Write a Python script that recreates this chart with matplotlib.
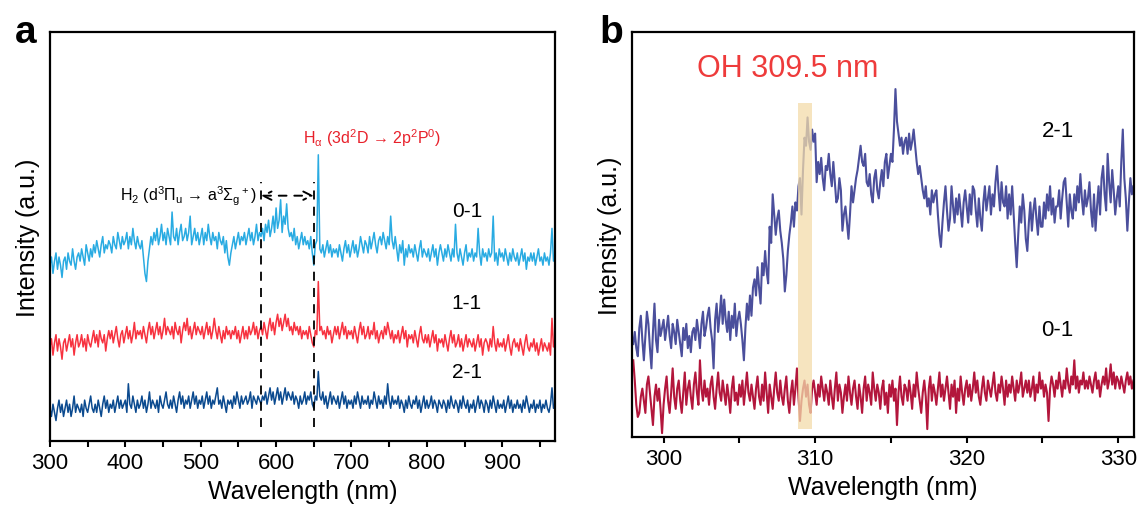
import numpy as np
import matplotlib
matplotlib.use("Agg")
import matplotlib.pyplot as plt
from matplotlib.ticker import MultipleLocator

plt.rcParams["font.family"] = ["Liberation Sans", "DejaVu Sans"]
plt.rcParams["mathtext.fontset"] = "custom"
plt.rcParams["mathtext.rm"] = "Liberation Sans"
plt.rcParams["mathtext.it"] = "Liberation Sans"

# ---------------------------------------------------------------- data (a)
# wavelength grid of the survey spectra, 2 nm step, 300-970 nm
wl_a = np.arange(300, 971, 2)

# OES spectra, intensity in % of the axis height
spec_01 = [
    43, 45, 41, 44, 46, 42, 45, 43, 40, 44,
    45, 42, 46, 44, 43, 47, 44, 42, 45, 46,
    44, 47, 45, 43, 48, 46, 44, 47, 45, 48,
    46, 49, 47, 45, 48, 50, 46, 48, 47, 49,
    48, 46, 50, 48, 47, 51, 49, 47, 50, 48,
    49, 51, 47, 50, 48, 52, 49, 47, 50, 48,
    47, 49, 45, 41, 39, 44, 47, 50, 48, 51,
    49, 52, 48, 50, 53, 49, 51, 48, 52, 50,
    48, 56, 50, 49, 52, 48, 51, 53, 49, 50,
    52, 49, 51, 55, 48, 50, 52, 49, 51, 48,
    50, 52, 48, 51, 49, 53, 50, 48, 51, 49,
    50, 47, 51, 49, 48, 50, 46, 49, 45, 43,
    46, 48, 50, 47, 49, 51, 48, 50, 49, 51,
    48, 50, 52, 49, 51, 48, 50, 53, 49, 51,
    50, 52, 49, 53, 51, 54, 50, 52, 55, 51,
    57, 52, 54, 59, 51, 55, 53, 58, 52, 50,
    51, 49, 52, 48, 50, 47, 49, 51, 48, 50,
    48, 49, 47, 50, 46, 43, 48, 49, 70, 47,
    46, 48, 45, 47, 49, 46, 48, 45, 47, 46,
    47, 45, 48, 46, 44, 47, 49, 46, 48, 45,
    47, 49, 46, 48, 45, 47, 50, 48, 46, 49,
    48, 46, 50, 47, 49, 51, 48, 46, 49, 50,
    48, 51, 49, 47, 50, 48, 55, 49, 47, 50,
    47, 44, 48, 46, 49, 43, 47, 45, 48, 46,
    47, 45, 48, 46, 44, 47, 49, 45, 47, 46,
    45, 47, 44, 46, 48, 45, 47, 43, 46, 48,
    46, 44, 47, 45, 48, 46, 44, 47, 45, 53,
    46, 44, 47, 45, 43, 46, 48, 44, 46, 45,
    47, 44, 46, 45, 52, 46, 43, 47, 45, 46,
    44, 47, 45, 46, 55, 44, 46, 43, 47, 45,
    46, 44, 47, 45, 43, 46, 44, 47, 45, 44,
    46, 43, 45, 47, 44, 46, 42, 45, 44, 46,
    44, 46, 43, 45, 47, 44, 45, 43, 46, 44,
    45, 43, 46, 52, 44, 45,
]
spec_11 = [
    23, 25, 21, 24, 26, 22, 25, 23, 20, 24,
    25, 22, 24, 26, 23, 25, 21, 24, 26, 23,
    24, 26, 23, 25, 22, 26, 24, 23, 25, 27,
    24, 26, 23, 27, 25, 24, 26, 22, 25, 27,
    25, 27, 24, 26, 28, 25, 23, 26, 27, 24,
    26, 28, 25, 27, 24, 26, 29, 25, 27, 26,
    27, 25, 28, 26, 24, 27, 29, 26, 28, 25,
    27, 29, 26, 28, 25, 27, 30, 26, 28, 27,
    26, 28, 25, 29, 27, 26, 28, 24, 27, 29,
    27, 30, 26, 28, 25, 27, 29, 26, 28, 27,
    26, 28, 25, 27, 29, 26, 28, 25, 27, 30,
    27, 25, 28, 26, 24, 27, 25, 28, 26, 27,
    25, 27, 26, 28, 25, 27, 24, 26, 28, 25,
    27, 25, 28, 26, 27, 29, 26, 28, 25, 27,
    28, 26, 29, 27, 25, 28, 30, 27, 29, 26,
    29, 31, 28, 30, 27, 29, 31, 28, 30, 27,
    28, 26, 29, 27, 28, 26, 28, 25, 27, 26,
    27, 25, 28, 26, 24, 23, 27, 26, 39, 27,
    28, 26, 27, 25, 28, 26, 27, 24, 26, 28,
    26, 28, 25, 27, 29, 26, 28, 25, 27, 26,
    27, 25, 28, 26, 24, 27, 29, 26, 28, 25,
    26, 28, 25, 27, 26, 29, 25, 27, 24, 26,
    27, 25, 28, 26, 29, 27, 25, 27, 24, 26,
    25, 27, 24, 26, 28, 25, 27, 23, 26, 25,
    26, 24, 27, 25, 23, 26, 28, 25, 24, 26,
    24, 26, 23, 25, 27, 24, 26, 22, 25, 24,
    25, 23, 26, 24, 22, 25, 27, 24, 26, 23,
    24, 26, 23, 25, 22, 24, 26, 23, 25, 24,
    23, 25, 22, 24, 26, 23, 25, 21, 24, 25,
    24, 22, 25, 23, 28, 24, 22, 25, 23, 24,
    23, 25, 22, 24, 26, 23, 21, 24, 25, 23,
    24, 22, 25, 23, 21, 24, 26, 23, 22, 24,
    23, 25, 22, 24, 21, 23, 25, 22, 24, 23,
    22, 24, 21, 30, 23, 24,
]
spec_21 = [
    8, 6, 9, 7, 5, 8, 10, 7, 9, 6,
    8, 10, 7, 9, 6, 8, 11, 7, 9, 8,
    7, 9, 6, 10, 8, 7, 9, 11, 8, 7,
    9, 7, 10, 8, 6, 9, 11, 8, 10, 7,
    9, 8, 10, 7, 9, 11, 8, 10, 8, 9,
    10, 7, 14, 9, 8, 11, 9, 7, 10, 8,
    9, 11, 8, 10, 7, 9, 12, 8, 10, 9,
    8, 10, 7, 11, 9, 8, 10, 12, 9, 8,
    10, 8, 11, 9, 7, 10, 12, 9, 11, 8,
    10, 9, 11, 8, 10, 12, 9, 11, 8, 10,
    9, 11, 8, 10, 12, 9, 11, 8, 10, 9,
    11, 13, 9, 10, 8, 11, 9, 7, 10, 9,
    10, 8, 11, 9, 12, 10, 8, 11, 9, 10,
    11, 9, 10, 12, 8, 11, 10, 9, 11, 10,
    9, 11, 10, 12, 9, 11, 13, 10, 12, 9,
    11, 13, 10, 12, 9, 11, 13, 10, 12, 11,
    10, 12, 9, 11, 10, 8, 11, 9, 10, 12,
    9, 11, 10, 12, 9, 8, 11, 10, 17, 11,
    10, 12, 9, 11, 8, 10, 12, 9, 11, 10,
    9, 11, 8, 10, 12, 9, 11, 8, 10, 9,
    10, 8, 11, 9, 12, 10, 8, 11, 9, 10,
    9, 11, 8, 10, 9, 12, 10, 8, 11, 9,
    10, 8, 11, 9, 14, 10, 8, 11, 9, 10,
    9, 11, 8, 10, 9, 7, 10, 8, 11, 9,
    8, 10, 9, 11, 8, 10, 7, 9, 11, 8,
    10, 8, 9, 11, 8, 10, 9, 7, 10, 9,
    8, 10, 9, 7, 10, 8, 11, 9, 8, 10,
    9, 7, 10, 8, 11, 9, 8, 10, 7, 9,
    8, 10, 7, 9, 11, 8, 10, 9, 7, 10,
    9, 7, 10, 8, 11, 9, 7, 10, 8, 9,
    8, 10, 7, 9, 11, 8, 10, 7, 9, 8,
    10, 8, 9, 7, 10, 8, 11, 9, 7, 9,
    8, 10, 7, 9, 8, 10, 7, 9, 8, 10,
    8, 7, 9, 13, 8, 9,
]

# ---------------------------------------------------------------- data (b)
# zoom on the OH band, 0.1 nm step, 298.0-331.0 nm
wl_b = np.round(np.arange(298.0, 331.05, 0.1), 1)

oh_21 = [
    23, 26, 22, 20, 27, 30, 24, 19, 25, 31,
    28, 22, 17, 26, 33, 24, 21, 29, 25, 27,
    29, 24, 27, 30, 25, 22, 28, 26, 23, 29,
    26, 23, 20, 27, 24, 28, 22, 25, 21, 26,
    27, 24, 29, 26, 22, 28, 31, 25, 27, 30,
    32, 27, 24, 17, 29, 33, 26, 30, 35, 28,
    34, 29, 26, 31, 24, 30, 27, 33, 25, 29,
    31, 28, 24, 19, 27, 33, 29, 35, 30, 37,
    39, 35, 42, 37, 33, 43, 40, 46, 41, 38,
    52, 48, 60, 55, 50, 54, 56, 51, 48, 44,
    36, 40, 46, 50, 53, 57, 52, 58, 56, 62,
    64, 55, 66, 74, 72, 79, 73, 71, 76, 73,
    75, 63, 68, 65, 69, 64, 61, 67, 66, 70,
    65, 62, 68, 63, 58, 59, 64, 61, 51, 55,
    57, 53, 49, 55, 62, 58, 61, 64, 66, 69,
    72, 68, 67, 70, 63, 62, 65, 60, 58, 64,
    66, 61, 59, 63, 66, 62, 68, 70, 64, 67,
    70, 68, 76, 86, 78, 75, 72, 74, 70, 73,
    74, 70, 75, 71, 73, 76, 72, 68, 65, 67,
    64, 61, 59, 62, 57, 59, 55, 61, 58, 60,
    61, 55, 50, 47, 53, 58, 62, 56, 51, 54,
    62, 57, 53, 59, 55, 60, 56, 52, 58, 61,
    57, 53, 60, 55, 62, 61, 56, 52, 59, 54,
    51, 58, 62, 56, 59, 62, 55, 60, 57, 63,
    67, 61, 56, 63, 58, 57, 62, 54, 60, 55,
    62, 55, 48, 42, 50, 57, 53, 60, 56, 49,
    46, 53, 58, 51, 56, 59, 54, 50, 57, 52,
    52, 58, 54, 60, 56, 62, 55, 59, 53, 57,
    57, 61, 54, 59, 63, 64, 58, 52, 60, 56,
    54, 60, 56, 62, 58, 65, 59, 55, 61, 57,
    59, 63, 56, 52, 60, 51, 57, 62, 55, 64,
    67, 60, 56, 70, 63, 58, 66, 61, 55, 59,
    62, 57, 68, 76, 64, 59, 51, 58, 64, 60,
    62,
]
oh_01 = [
    19, 14, 8, 5, 6, 10, 12, 9, 6, 13,
    15, 11, 7, 3, 10, 13, 9, 12, 7, 1,
    8, 12, 15, 9, 6, 11, 17, 10, 7, 12,
    14, 9, 6, 11, 16, 8, 12, 14, 10, 7,
    13, 16, 11, 8, 19, 12, 9, 14, 10, 12,
    8, 13, 15, 10, 7, 12, 16, 11, 9, 14,
    11, 8, 13, 10, 6, 12, 15, 9, 11, 8,
    13, 10, 14, 8, 12, 16, 11, 9, 13, 10,
    7, 12, 15, 10, 8, 13, 9, 16, 11, 6,
    13, 10, 7, 12, 16, 11, 9, 14, 10, 8,
    12, 15, 9, 6, 11, 14, 8, 12, 17, 10,
    4, 9, 12, 14, 10, 13, 8, 6, 12, 14,
    11, 8, 13, 10, 15, 12, 9, 13, 11, 8,
    14, 10, 7, 12, 16, 9, 13, 11, 6, 10,
    13, 9, 15, 11, 8, 12, 14, 10, 7, 13,
    10, 6, 12, 15, 9, 13, 11, 8, 16, 12,
    9, 13, 11, 7, 12, 14, 8, 11, 6, 13,
    10, 14, 9, 12, 3, 11, 15, 10, 8, 13,
    12, 9, 14, 11, 7, 13, 10, 16, 12, 9,
    6, 11, 14, 10, 2, 12, 15, 9, 13, 11,
    8, 12, 16, 10, 13, 9, 12, 15, 11, 7,
    13, 10, 14, 6, 12, 9, 15, 11, 8, 12,
    14, 10, 13, 9, 12, 16, 11, 14, 10, 8,
    12, 15, 11, 9, 14, 12, 10, 13, 16, 11,
    9, 13, 11, 15, 12, 8, 14, 10, 13, 11,
    15, 12, 9, 14, 11, 13, 16, 10, 12, 14,
    11, 14, 10, 12, 15, 9, 13, 11, 16, 12,
    14, 10, 13, 11, 4, 12, 15, 13, 10, 14,
    12, 16, 13, 10, 14, 12, 17, 13, 11, 15,
    13, 19, 12, 15, 11, 14, 13, 16, 12, 14,
    12, 15, 13, 11, 14, 16, 12, 14, 10, 13,
    15, 13, 17, 12, 14, 18, 13, 16, 12, 15,
    14, 12, 15, 13, 11, 14, 16, 13, 15, 12,
    14,
]

labels_a = ["0-1", "1-1", "2-1"]
labels_b = ["2-1", "0-1"]

# ---------------------------------------------------------------- figure
fig = plt.figure(figsize=(11.38, 5.06), dpi=100)
ax_a = fig.add_axes([0.0439, 0.1265, 0.4438, 0.808])
ax_b = fig.add_axes([0.5554, 0.1340, 0.4411, 0.800])

for ax in (ax_a, ax_b):
    for sp in ax.spines.values():
        sp.set_linewidth(1.6)
    ax.set_yticks([])
    ax.tick_params(axis="x", which="both", direction="out", length=4,
                   width=1.5, labelsize=16, pad=4)
    ax.set_ylim(0, 100)
    ax.set_xlabel("Wavelength (nm)", fontsize=18, labelpad=4)
    ax.set_ylabel("Intensity (a.u.)", fontsize=18, labelpad=7)

# ---- panel a
colors_a = ["#29abe2", "#f7323f", "#0b4a8f"]
for y, c in zip([spec_01, spec_11, spec_21], colors_a):
    ax_a.plot(wl_a, y, color=c, lw=1.1)

ax_a.set_xlim(300, 970)
ax_a.xaxis.set_major_locator(MultipleLocator(100))
ax_a.xaxis.set_minor_locator(MultipleLocator(50))

for x0 in (580, 650):
    ax_a.plot([x0, x0], [3.4, 63.4], ls=(0, (5, 4)), color="k", lw=1.3)

ax_a.annotate("", xy=(650, 60), xytext=(580, 60),
              arrowprops=dict(arrowstyle="<->,head_width=0.3,head_length=0.6",
                              ls=(0, (4, 4)), lw=1.4, color="k",
                              shrinkA=0, shrinkB=0))
ax_a.text(574, 60, "H$_2$ (d$^3$\u03a0$_u$ \u2192 a$^3$\u03a3$_g$$^+$)",
          fontsize=11.5, ha="right", va="center")
ax_a.text(636, 74.3, "H$_\u03b1$ (3d$^2$D \u2192 2p$^2$P$^0$)",
          fontsize=11.5, ha="left", va="center", color="#e8202a")

for lab, yy in zip(labels_a, [56.3, 33.9, 17.1]):
    ax_a.text(853, yy, lab, fontsize=15, ha="center", va="center")

# ---- panel b
ax_b.plot(wl_b, oh_21, color="#4b4f9c", lw=1.5)
ax_b.plot(wl_b, oh_01, color="#b3163c", lw=1.5)
ax_b.axvspan(308.9, 309.8, ymin=0.021, ymax=0.825, color="#f3dcaa",
             alpha=0.75, lw=0, zorder=3)

ax_b.set_xlim(297.92, 331.04)
ax_b.xaxis.set_major_locator(MultipleLocator(10))
ax_b.xaxis.set_minor_locator(MultipleLocator(5))

ax_b.text(302.2, 91.2, "OH 309.5 nm", fontsize=22, color="#ee3b3b",
          ha="left", va="center")
for lab, yy in zip(labels_b, [75.7, 26.6]):
    ax_b.text(326.0, yy, lab, fontsize=16, ha="center", va="center")

fig.text(0.013, 0.915, "a", fontsize=28, fontweight="bold", va="baseline")
fig.text(0.527, 0.915, "b", fontsize=28, fontweight="bold", va="baseline")

fig.savefig("out.png", dpi=100)
